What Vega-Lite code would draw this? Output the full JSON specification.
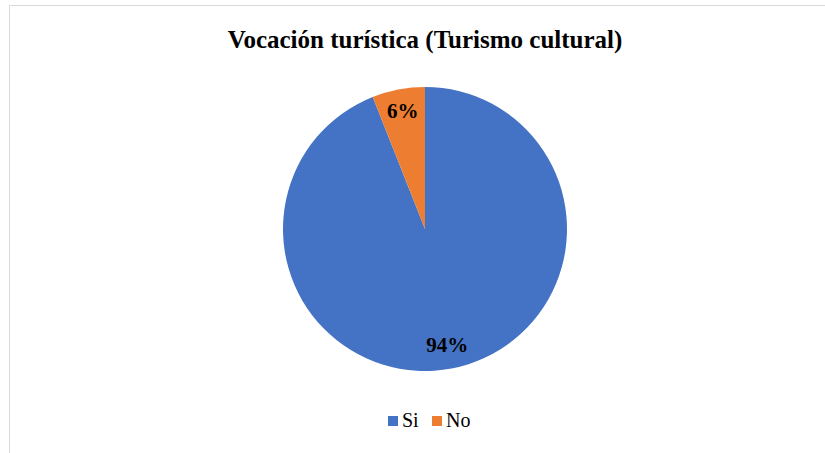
{
  "$schema": "https://vega.github.io/schema/vega-lite/v6.json",
  "width": 832,
  "height": 448,
  "autosize": {"type": "none"},
  "padding": {"left": 9, "top": 5, "right": 0, "bottom": 0},
  "background": "white",
  "view": {"stroke": "#d9d9d9", "strokeWidth": 1, "fill": "white"},
  "title": {
    "text": "Vocación turística (Turismo cultural)",
    "font": "Liberation Serif",
    "fontSize": 25,
    "fontWeight": "bold",
    "color": "black",
    "anchor": "middle",
    "offset": -48
  },
  "data": {
    "values": [
      {"Respuesta": "Si", "Valor": 94, "Etiqueta": "94%"},
      {"Respuesta": "No", "Valor": 6, "Etiqueta": "6%"}
    ]
  },
  "encoding": {
    "theta": {"field": "Valor", "type": "quantitative", "stack": true},
    "order": {"field": "Valor", "type": "quantitative", "sort": "descending"}
  },
  "layer": [
    {
      "mark": {"type": "arc", "outerRadius": 142},
      "encoding": {
        "color": {
          "field": "Respuesta",
          "type": "nominal",
          "scale": {"domain": ["Si", "No"], "range": ["#4472C4", "#ED7D31"]},
          "legend": {
            "orient": "none",
            "legendX": 374,
            "legendY": 406,
            "direction": "horizontal",
            "title": null,
            "symbolType": "square",
            "symbolSize": 100,
            "symbolStrokeWidth": 0,
            "labelFont": "Liberation Serif",
            "labelFontSize": 20,
            "labelColor": "black",
            "labelOffset": -1,
            "columnPadding": 8,
            "padding": 0
          }
        }
      }
    },
    {
      "mark": {
        "type": "text",
        "radius": 119,
        "font": "Liberation Serif",
        "fontSize": 21,
        "fontWeight": "bold",
        "color": "black",
        "baseline": "middle"
      },
      "encoding": {"text": {"field": "Etiqueta", "type": "nominal"}}
    }
  ]
}
